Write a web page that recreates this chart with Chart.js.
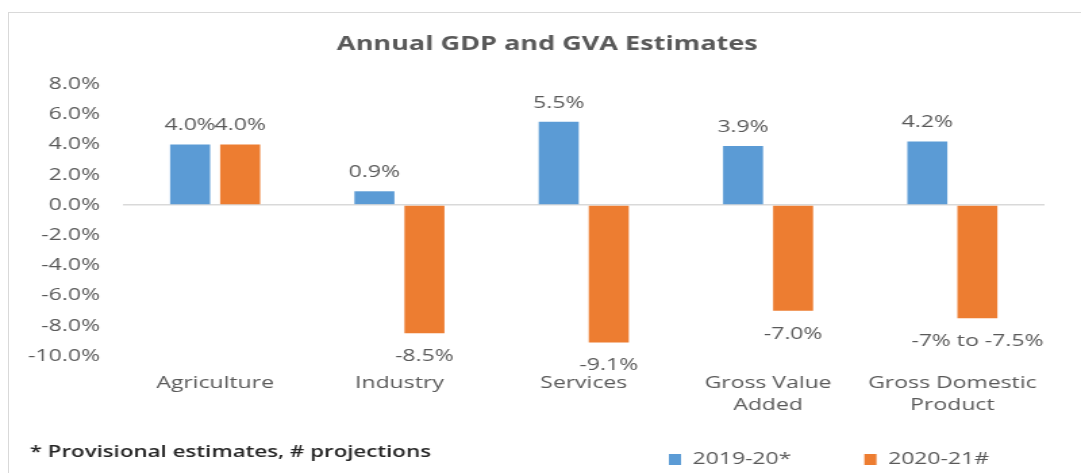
<!DOCTYPE html>
<html>
<head>
<meta charset="utf-8">
<script src="https://cdn.jsdelivr.net/npm/chart.js@4/dist/chart.umd.min.js"></script>
<style>
    html, body { margin: 0; padding: 0; background: #fff; }
    body { width: 1081px; height: 473px; overflow: hidden; position: relative; }
    /* Rahmen des Diagramms */
    .frame { position: absolute; left: 8px; top: 12px; width: 1100px; height: 500px; border: 1px solid #d9d9d9; }
    /* Original ist horizontal gestreckt */
    .wrap { position: absolute; left: 0; top: 0; width: 800px; height: 473px; transform: scaleX(1.35125); transform-origin: 0 0; }
</style>
</head>
<body>
<div class="frame"></div>
<div class="wrap"><canvas id="chart"></canvas></div>
<script>
const categories = ['Agriculture', 'Industry', 'Services', ['Gross Value', 'Added'], ['Gross Domestic', 'Product']];
const seriesNames = ['2019-20*', '2020-21#'];
const values2019 = [4.0, 0.9, 5.5, 3.9, 4.2];
const values2020 = [4.0, -8.5, -9.1, -7.0, -7.5];
const labels2019 = ['4.0%', '0.9%', '5.5%', '3.9%', '4.2%'];
const labels2020 = ['4.0%', '-8.5%', '-9.1%', '-7.0%', '-7% to -7.5%'];
const yMin = -10, yMax = 8, yStep = 2;
const footnote = '* Provisional estimates, # projections';

const FONT = "'Open Sans', sans-serif";
const GREY = '#595959';

// Wertbeschriftungen, Fussnote, Lage von Titel und Legende
const valueLabels = {
    id: 'valueLabels',
    afterLayout(chart) {
        const tb = chart.titleBlock;
        if (tb) tb.left = 2 * 405 - tb.right;
        const lg = chart.legend;
        lg.left = 441;
        lg.right = 800;
        lg.top = 397;
    },
    afterDatasetsDraw(chart) {
        const ctx = chart.ctx;
        const texts = [labels2019, labels2020];
        ctx.save();
        ctx.font = `17px ${FONT}`;
        ctx.fillStyle = GREY;
        ctx.textAlign = 'center';
        ctx.textBaseline = 'middle';
        chart.data.datasets.forEach((ds, i) => {
            chart.getDatasetMeta(i).data.forEach((bar, j) => {
                const y = ds.data[j] >= 0 ? bar.y - 19 : bar.y + 23;
                ctx.fillText(texts[i][j], bar.x, y);
            });
        });
        ctx.restore();
    },
    afterDraw(chart) {
        const ctx = chart.ctx;
        ctx.save();
        ctx.font = `600 16.5px ${FONT}`;
        ctx.fillStyle = '#262626';
        ctx.textAlign = 'left';
        ctx.textBaseline = 'middle';
        ctx.fillText(footnote, 22, 452);
        ctx.restore();
    }
};

new Chart(document.getElementById('chart'), {
    type: 'bar',
    data: {
        labels: categories,
        datasets: [{
            label: seriesNames[0],
            data: values2019,
            backgroundColor: '#5b9bd5',
            categoryPercentage: 0.543,
            barPercentage: 0.8,
        }, {
            label: seriesNames[1],
            data: values2020,
            backgroundColor: '#ed7d31',
            categoryPercentage: 0.543,
            barPercentage: 0.8,
        }],
    },
    options: {
        responsive: true,
        maintainAspectRatio: false,
        animation: false,
        layout: { padding: { left: 0, right: 27, top: 0, bottom: 0 } },
        plugins: {
            title: {
                display: true,
                text: 'Annual GDP and GVA Estimates',
                color: GREY,
                font: { family: FONT, size: 20, weight: 'bold' },
                padding: { top: 32, bottom: 28 },
            },
            legend: {
                position: 'bottom',
                align: 'start',
                maxHeight: 20,
                labels: {
                    color: GREY,
                    font: { family: FONT, size: 17 },
                    boxWidth: 9,
                    boxHeight: 11,
                    padding: 54,
                },
            },
            tooltip: { enabled: false },
        },
        scales: {
            x: {
                grid: { display: false },
                border: { display: false },
                ticks: {
                    color: GREY,
                    font: { family: FONT, size: 17, lineHeight: 1.3 },
                    padding: 8,
                    maxRotation: 0,
                    autoSkip: false,
                },
                afterFit(scale) { scale.height = 97; },
            },
            y: {
                min: yMin,
                max: yMax,
                border: { display: false },
                grid: {
                    drawTicks: false,
                    color: c => (c.tick && c.tick.value === 0 ? '#d9d9d9' : 'transparent'),
                    lineWidth: 1.5,
                },
                ticks: {
                    stepSize: yStep,
                    color: GREY,
                    padding: 17,
                    font: { family: FONT, size: 17 },
                    callback: v => v.toFixed(1) + '%',
                },
                afterFit(scale) { scale.width = 91; },
            },
        },
    },
    plugins: [valueLabels],
});
</script>
</body>
</html>
